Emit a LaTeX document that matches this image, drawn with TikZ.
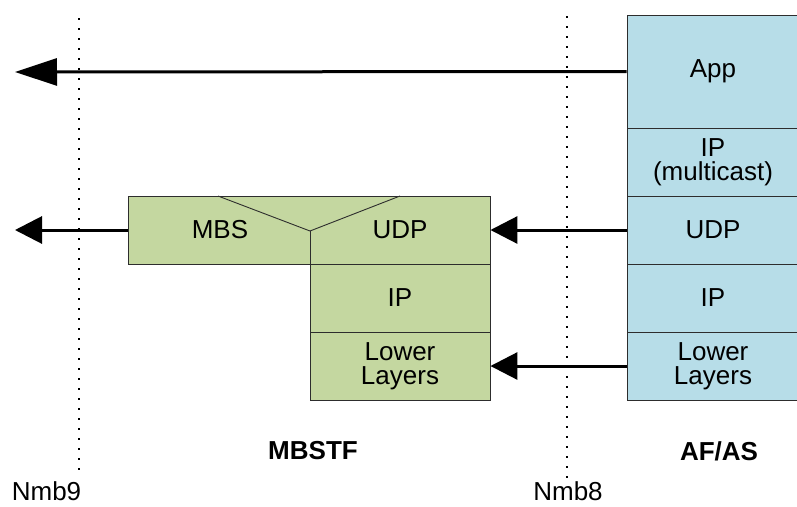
\documentclass[tikz,border=0pt]{standalone}
\usepackage{fontspec}
\setmainfont{Liberation Sans}
\usetikzlibrary{arrows.meta}
\definecolor{mgreen}{RGB}{196,215,160}
\definecolor{ablue}{RGB}{183,221,232}
\definecolor{edgec}{RGB}{45,45,45}
\begin{document}
\begin{tikzpicture}[x=1pt,y=-1pt,
  txt/.style={inner sep=0pt, align=center, font=\fontsize{26}{24}\selectfont},
  plain/.style={inner sep=0pt, font=\fontsize{26}{24}\selectfont},
  layer/.style={txt, draw=edgec, line width=0.9pt},
  afbox/.style={layer, fill=ablue, minimum width=172pt},
  mbbox/.style={layer, fill=mgreen, minimum width=180pt, minimum height=68pt},
  boldlabel/.style={plain, font=\fontsize{26}{24}\selectfont\bfseries},
  refline/.style={line width=1.6pt, dash pattern=on 1.6pt off 8.4pt},
  flow/.style={line width=3pt},
  bigtip/.style={-{Triangle[length=42pt,width=27pt]}},
  smalltip/.style={-{Triangle[length=27pt,width=27pt]}}]
\useasboundingbox (0,0) rectangle (797,506);
% reference lines
\coordinate (n9top) at (79,18);
\coordinate (n9bot) at (79,470);
\coordinate (n8top) at (567,16);
\coordinate (n8bot) at (567,478);
\draw[refline] (n9top) -- (n9bot);
\draw[refline] (n8top) -- (n8bot);
% AF/AS stack
\node[afbox, minimum height=113pt] (app) at (713,71.5) {App};
\node[afbox, minimum height=68pt] (ipmc) at (713,162) {IP\\(multicast)};
\node[afbox, minimum height=68pt] (udpa) at (713,230) {UDP};
\node[afbox, minimum height=68pt] (ipa) at (713,298) {IP};
\node[afbox, minimum height=68pt] (lla) at (713,366) {Lower\\Layers};
% MBSTF stack
\node[layer, fill=mgreen, minimum width=362pt, minimum height=68pt] (toprow) at (309,230) {};
\node[plain] (mbs) at (220,230) {MBS};
\node[plain] (udpm) at (400,230) {UDP};
\coordinate (vl) at (218,196);
\coordinate (vr) at (400,196);
\coordinate (vm) at (310,231);
\coordinate (vb) at (310,264);
\draw[edgec, line width=0.9pt] (vl) -- (vm) -- (vr);
\draw[edgec, line width=0.9pt] (vm) -- (vb);
\node[mbbox] (ipm) at (400,298) {IP};
\node[mbbox] (llm) at (400,366) {Lower\\Layers};
% arrows
\coordinate (leftA) at (15,72);
\coordinate (leftB) at (15,230);
\draw[flow, bigtip] (app.west) -- (leftA);
\draw[flow, smalltip] (udpa.west) -- (toprow.east);
\draw[flow, smalltip] (lla.west) -- (llm.east);
\draw[flow, smalltip] (toprow.west) -- (leftB);
% labels
\node[boldlabel] (mbstf) at (313,451) {MBSTF};
\node[boldlabel] (afas) at (719,451) {AF/AS};
\node[plain] (nmb9) at (46.5,491.5) {Nmb9};
\node[plain] (nmb8) at (568,491.5) {Nmb8};
\end{tikzpicture}
\end{document}
